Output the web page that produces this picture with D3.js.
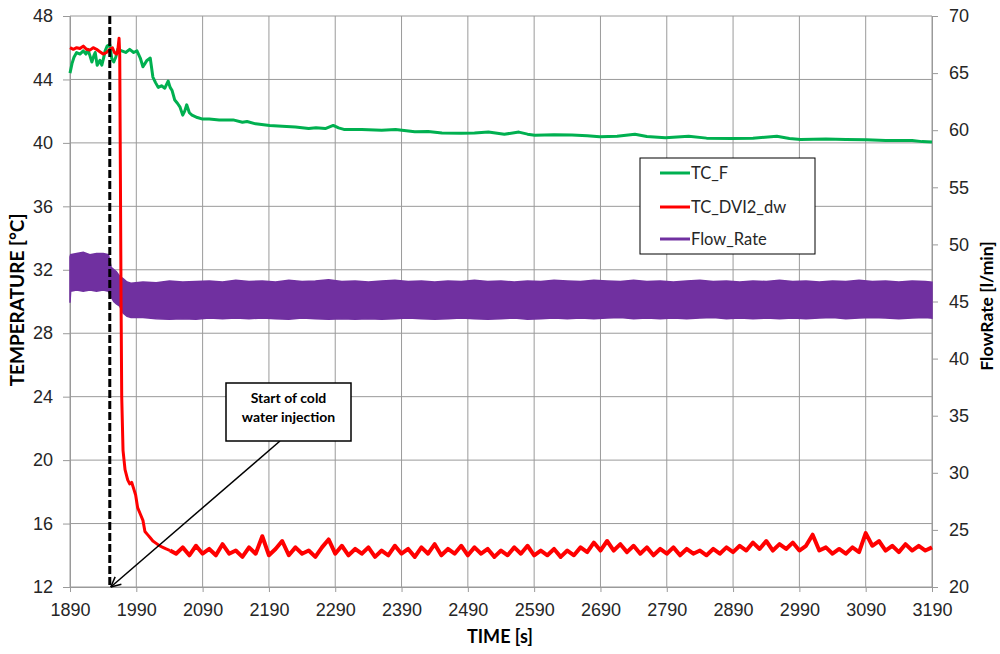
<!DOCTYPE html>
<html>
<head>
<meta charset="utf-8">
<script src="https://cdn.jsdelivr.net/npm/d3@7"></script>
<style>
  body { margin: 0; background: #fff; }
  svg { display: block; font-family: Lato, "Liberation Sans", sans-serif; }
</style>
</head>
<body>
<svg id="chart" width="1000" height="654"></svg>
<script>
// tick values
var timeTicks = [1890, 1990, 2090, 2190, 2290, 2390, 2490, 2590, 2690, 2790, 2890, 2990, 3090, 3190];
var tempTicks = [12, 16, 20, 24, 28, 32, 36, 40, 44, 48];
var flowTicks = [20, 25, 30, 35, 40, 45, 50, 55, 60, 65, 70];

// TC_F (green, left axis)
var tcFTime = [1890, 1893, 1896, 1900, 1905, 1910, 1914, 1917, 1920, 1923, 1926, 1928, 1931, 1935, 1938, 1941,
  1943, 1946, 1950, 1953, 1956, 1959, 1962, 1968, 1974, 1980, 1986, 1991, 1996, 2000, 2003, 2006, 2011,
  2015, 2019, 2023, 2028, 2033, 2038, 2041, 2044, 2048, 2052, 2056, 2060, 2063, 2066, 2070, 2074, 2082,
  2090, 2100, 2115, 2136, 2150, 2157, 2170, 2191, 2210, 2230, 2250, 2261, 2275, 2287, 2295, 2303, 2330,
  2360, 2381, 2410, 2430, 2451, 2480, 2500, 2521, 2545, 2567, 2580, 2591, 2620, 2647, 2670, 2689, 2715,
  2742, 2760, 2788, 2823, 2850, 2887, 2920, 2956, 2975, 2992, 3030, 3060, 3091, 3120, 3160, 3175, 3190];
var tcFValue = [44.4, 45.0, 45.4, 45.7, 45.6, 45.8, 45.6, 45.9, 45.5, 45.1, 45.5, 45.7, 44.9, 45.2, 44.9, 45.4,
  45.8, 46.1, 46.2, 45.3, 45.1, 45.4, 45.9, 45.8, 45.7, 45.9, 45.7, 45.8, 45.35, 44.8, 45.0, 45.2, 45.35,
  44.15, 43.8, 43.5, 43.6, 43.45, 43.9, 43.5, 43.3, 42.7, 42.5, 42.25, 41.75, 42.0, 42.4, 41.9, 41.75, 41.6,
  41.5, 41.5, 41.45, 41.45, 41.3, 41.35, 41.2, 41.1, 41.05, 41.0, 40.9, 40.95, 40.9, 41.1, 40.95, 40.85, 40.85,
  40.8, 40.85, 40.7, 40.72, 40.62, 40.6, 40.62, 40.68, 40.55, 40.68, 40.55, 40.48, 40.52, 40.5, 40.45, 40.38, 40.42,
  40.55, 40.4, 40.33, 40.42, 40.3, 40.28, 40.3, 40.42, 40.28, 40.22, 40.25, 40.22, 40.2, 40.15, 40.15, 40.08, 40.05];

// TC_DVI2_dw (red, left axis): before and during the drop
var dviHeadTime = [1890, 1895, 1900, 1905, 1910, 1915, 1920, 1925, 1930, 1935, 1940, 1945, 1950, 1954, 1957,
  1960, 1962, 1964, 1965, 1966, 1967, 1968, 1970, 1973, 1977, 1980, 1983, 1986, 1989, 1992, 1996, 2000,
  2003, 2007, 2011, 2015, 2020, 2025, 2030, 2035, 2041];
var dviHeadValue = [46.0, 45.9, 46.0, 45.95, 46.1, 45.9, 45.85, 46.0, 45.9, 45.75, 45.6, 45.7, 45.9, 46.0, 45.7,
  45.6, 45.8, 46.6, 45.5, 38.0, 30.0, 24.0, 20.6, 19.4, 18.75, 18.5, 18.6, 18.2, 17.8, 17.0, 16.6, 16.2,
  15.5, 15.3, 15.1, 14.9, 14.75, 14.6, 14.5, 14.4, 14.3];
// after the drop, one reading every 10 s from 2050 to 3190
var dviTailTime = d3.range(2050, 3191, 10);
var dviTailValue = [14.1, 14.5, 14.0, 14.6, 14.1, 14.4, 14.0, 14.7, 14.1, 14.3,
  13.9, 14.5, 14.1, 15.2, 14.0, 14.4, 14.9, 14.0, 14.5, 14.1,
  14.3, 13.9, 14.5, 15.0, 14.1, 14.6, 14.0, 14.4, 14.1, 14.5,
  13.9, 14.3, 14.0, 14.6, 14.1, 14.4, 13.9, 14.5, 14.1, 14.7,
  14.0, 14.4, 14.1, 14.6, 14.0, 14.5, 14.1, 14.4, 13.9, 14.3,
  14.0, 14.5, 14.1, 14.6, 14.0, 14.3, 14.0, 14.4, 13.9, 14.3,
  14.0, 14.5, 14.2, 14.8, 14.3, 14.9, 14.3, 14.7, 14.2, 14.6,
  14.1, 14.5, 14.0, 14.4, 14.1, 14.5, 14.0, 14.4, 14.1, 14.3,
  14.0, 14.4, 14.1, 14.5, 14.2, 14.6, 14.3, 14.8, 14.4, 14.9,
  14.3, 14.7, 14.4, 14.8, 14.3, 14.6, 15.3, 14.3, 14.5, 14.1,
  14.4, 14.1, 14.5, 14.2, 15.4, 14.6, 14.9, 14.3, 14.6, 14.2,
  14.7, 14.3, 14.6, 14.3, 14.5];

// Flow_Rate (purple, right axis): the signal oscillates fast, kept as its upper / lower envelope
var flowTime = [1890, 1891, 1900, 1910, 1920, 1930, 1940, 1948, 1952, 1956, 1960, 1965, 1970, 1976, 1982,
  2000, 2020, 2040, 2060, 2080, 2100, 2120, 2140, 2160, 2180, 2200, 2220, 2240, 2260, 2280, 2300, 2320,
  2340, 2360, 2380, 2400, 2420, 2440, 2460, 2480, 2500, 2520, 2540, 2560, 2580, 2600, 2620, 2640, 2660,
  2680, 2700, 2720, 2740, 2760, 2780, 2800, 2820, 2840, 2860, 2880, 2900, 2920, 2940, 2960, 2980, 3000,
  3020, 3040, 3060, 3080, 3100, 3120, 3140, 3160, 3180, 3190];
var flowHigh = [48.9, 49.1, 49.2, 49.3, 49.1, 49.2, 49.2, 49.1, 48.0, 47.8, 47.6, 47.2, 47.0, 46.7, 46.6,
  46.7, 46.65, 46.8, 46.7, 46.75, 46.8, 46.7, 46.85, 46.75, 46.8, 46.7, 46.85, 46.75, 46.8, 46.9, 46.75, 46.8,
  46.7, 46.8, 46.85, 46.75, 46.8, 46.7, 46.8, 46.75, 46.85, 46.75, 46.8, 46.7, 46.8, 46.75, 46.85, 46.8, 46.75,
  46.85, 46.8, 46.75, 46.85, 46.75, 46.8, 46.7, 46.8, 46.85, 46.75, 46.8, 46.7, 46.8, 46.75, 46.85, 46.75, 46.8,
  46.7, 46.8, 46.75, 46.85, 46.75, 46.8, 46.7, 46.8, 46.75, 46.7];
var flowLow = [44.9, 45.9, 46.0, 45.9, 46.0, 45.9, 46.0, 45.9, 45.4, 45.0, 44.8, 44.6, 44.0, 43.7, 43.6,
  43.6, 43.5, 43.45, 43.5, 43.45, 43.55, 43.5, 43.55, 43.5, 43.55, 43.5, 43.45, 43.55, 43.5, 43.45, 43.5, 43.45,
  43.5, 43.45, 43.5, 43.55, 43.5, 43.45, 43.5, 43.55, 43.5, 43.45, 43.5, 43.55, 43.45, 43.5, 43.55, 43.5, 43.55,
  43.5, 43.55, 43.6, 43.5, 43.55, 43.5, 43.55, 43.5, 43.55, 43.6, 43.5, 43.55, 43.5, 43.55, 43.5, 43.55, 43.5,
  43.55, 43.6, 43.5, 43.55, 43.6, 43.55, 43.5, 43.55, 43.6, 43.55];

var injectionTime = 1950;
var seriesNames = ["TC_F", "TC_DVI2_dw", "Flow_Rate"];
var seriesColors = ["#00b050", "#ff0000", "#7030a0"];

var svg = d3.select("#chart");
var plotLeft = 70, plotRight = 932, plotTop = 16, plotBottom = 587;
var gridColor = "#9a9a9a";

var x = d3.scaleLinear().domain([1890, 3190]).range([plotLeft, plotRight]);
var yT = d3.scaleLinear().domain([12, 48]).range([plotBottom, plotTop]);
var yF = d3.scaleLinear().domain([20, 70]).range([plotBottom, plotTop]);

// grid
svg.append("g").selectAll("line")
    .data(tempTicks)
  .enter().append("line")
    .attr("x1", plotLeft).attr("x2", plotRight)
    .attr("y1", function (d) { return yT(d); })
    .attr("y2", function (d) { return yT(d); })
    .attr("stroke", gridColor);
svg.append("g").selectAll("line")
    .data(timeTicks)
  .enter().append("line")
    .attr("x1", function (d) { return x(d); })
    .attr("x2", function (d) { return x(d); })
    .attr("y1", plotTop).attr("y2", plotBottom)
    .attr("stroke", gridColor);

function styleAxis(g) {
  g.select(".domain").attr("stroke", gridColor);
  g.selectAll(".tick line").attr("stroke", gridColor);
  g.selectAll(".tick text").attr("fill", "#262626").style("font-size", "18px");
}

svg.append("g")
    .attr("transform", "translate(" + plotLeft + ",0)")
    .call(d3.axisLeft(yT).tickValues(tempTicks).tickSize(7).tickPadding(10))
    .call(styleAxis);
svg.append("g")
    .attr("transform", "translate(" + plotRight + ",0)")
    .call(d3.axisRight(yF).tickValues(flowTicks).tickSize(6).tickPadding(11))
    .call(styleAxis);
svg.append("g")
    .attr("transform", "translate(0," + plotBottom + ")")
    .call(d3.axisBottom(x).tickValues(timeTicks).tickFormat(d3.format("d")).tickSize(5).tickPadding(11))
    .call(styleAxis);

// flow band
var flowData = flowTime.map(function (t, i) { return { t: t, hi: flowHigh[i], lo: flowLow[i] }; });
svg.append("path")
    .datum(flowData)
    .attr("fill", seriesColors[2])
    .attr("stroke", seriesColors[2])
    .attr("stroke-width", 1.5)
    .attr("d", d3.area()
        .x(function (d) { return x(d.t); })
        .y0(function (d) { return yF(d.lo); })
        .y1(function (d) { return yF(d.hi); }));

var tempLine = d3.line()
    .x(function (d) { return x(d[0]); })
    .y(function (d) { return yT(d[1]); });

var tcF = tcFTime.map(function (t, i) { return [t, tcFValue[i]]; });
svg.append("path")
    .datum(tcF)
    .attr("fill", "none")
    .attr("stroke", seriesColors[0])
    .attr("stroke-width", 3)
    .attr("stroke-linejoin", "round")
    .attr("d", tempLine);

// red: the drop at normal width, the noisy tail a bit thicker (dense noise in the source)
var n = Math.min(dviTailTime.length, dviTailValue.length);
var dviHead = dviHeadTime.map(function (t, i) { return [t, dviHeadValue[i]]; });
var dviTail = [dviHead[dviHead.length - 1]]
    .concat(dviTailTime.slice(0, n).map(function (t, i) { return [t, dviTailValue[i]]; }));
svg.append("path")
    .datum(dviTail)
    .attr("fill", "none")
    .attr("stroke", seriesColors[1])
    .attr("stroke-width", 4)
    .attr("stroke-linejoin", "round")
    .attr("d", tempLine);
svg.append("path")
    .datum(dviHead)
    .attr("fill", "none")
    .attr("stroke", seriesColors[1])
    .attr("stroke-width", 3)
    .attr("stroke-linejoin", "round")
    .attr("d", tempLine);

// start of injection marker
svg.append("line")
    .attr("x1", x(injectionTime)).attr("x2", x(injectionTime))
    .attr("y1", yT(48)).attr("y2", yT(12))
    .attr("stroke", "#000")
    .attr("stroke-width", 3)
    .attr("stroke-dasharray", "8,3");

// annotation box + arrow
var box = { x: 226, y: 383, w: 125, h: 58 };
var ax0 = 280, ay0 = box.y + box.h, ax1 = x(injectionTime) + 1, ay1 = yT(12);
svg.append("line")
    .attr("x1", ax0).attr("y1", ay0).attr("x2", ax1).attr("y2", ay1)
    .attr("stroke", "#000").attr("stroke-width", 1.5);
var ang = Math.atan2(ay0 - ay1, ax0 - ax1);
[-0.45, 0.45].forEach(function (da) {
  svg.append("line")
      .attr("x1", ax1).attr("y1", ay1)
      .attr("x2", ax1 + 11 * Math.cos(ang + da))
      .attr("y2", ay1 + 11 * Math.sin(ang + da))
      .attr("stroke", "#000").attr("stroke-width", 1.5);
});
svg.append("rect")
    .attr("x", box.x).attr("y", box.y).attr("width", box.w).attr("height", box.h)
    .attr("fill", "#fff").attr("stroke", "#000").attr("stroke-width", 1.5);
svg.append("text")
    .attr("x", box.x + box.w / 2).attr("y", box.y + 20)
    .attr("text-anchor", "middle")
    .style("font-size", "14px").style("font-weight", "bold")
    .selectAll("tspan")
    .data(["Start of cold", "water injection"])
  .enter().append("tspan")
    .attr("x", box.x + box.w / 2)
    .attr("dy", function (d, i) { return i ? 19 : 0; })
    .text(function (d) { return d; });

// legend
var legend = svg.append("g").attr("transform", "translate(640,158)");
legend.append("rect")
    .attr("width", 175).attr("height", 96)
    .attr("fill", "#fff").attr("stroke", "#000").attr("stroke-width", 1);
var item = legend.selectAll("g.item")
    .data(seriesNames)
  .enter().append("g")
    .attr("transform", function (d, i) { return "translate(0," + [15, 49, 81][i] + ")"; });
item.append("line")
    .attr("x1", 20).attr("x2", 50)
    .attr("stroke", function (d, i) { return seriesColors[i]; })
    .attr("stroke-width", 3);
item.append("text")
    .attr("x", 51).attr("dy", "0.35em")
    .style("font-size", "16.5px")
    .attr("fill", "#262626")
    .text(function (d) { return d; });

// axis titles
svg.append("text")
    .attr("transform", "translate(24,300) rotate(-90)")
    .attr("text-anchor", "middle")
    .style("font-size", "19px").style("font-weight", "bold")
    .text("TEMPERATURE [°C]");
svg.append("text")
    .attr("transform", "translate(993,306) rotate(-90)")
    .attr("text-anchor", "middle")
    .style("font-size", "17.5px").style("font-weight", "bold")
    .text("FlowRate [l/min]");
svg.append("text")
    .attr("x", 500).attr("y", 643)
    .attr("text-anchor", "middle")
    .style("font-size", "18px").style("font-weight", "bold")
    .text("TIME [s]");
</script>
</body>
</html>
